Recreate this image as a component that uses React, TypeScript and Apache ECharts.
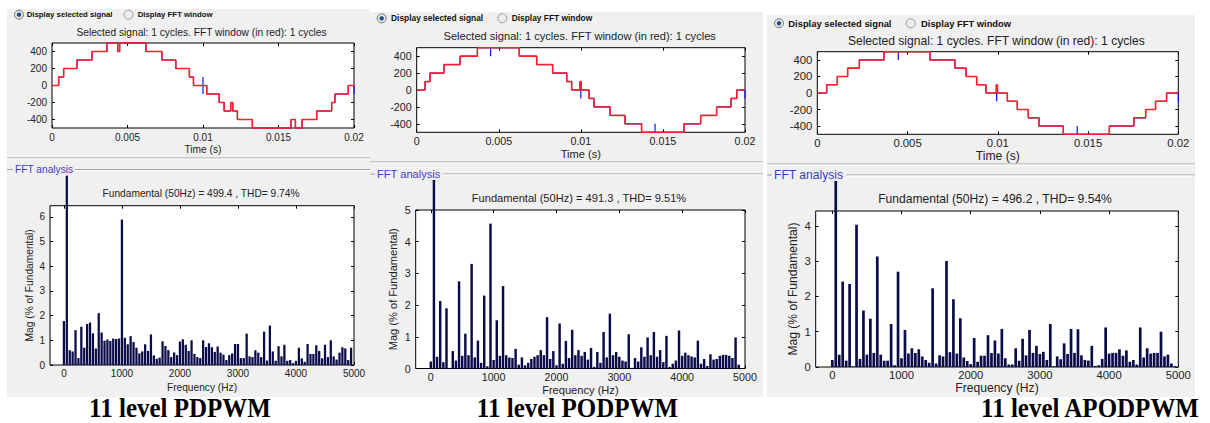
import React, { useEffect, useRef } from "react";
import * as echarts from "echarts";

// ---------- shared axis ticks ----------
const timeTicks = [0, 0.005, 0.01, 0.015, 0.02];
const voltageTicks = [-400, -200, 0, 200, 400];
const freqTicks = [0, 1000, 2000, 3000, 4000, 5000];
const harmonicStepHz = 50;

// ---------- 11 level PDPWM ----------
const pdStepTimes = [0.00044, 0.00077, 0.00165, 0.00265, 0.00364, 0.00435, 0.00448, 0.00622, 0.00728, 0.0082, 0.0091, 0.00937, 0.01025, 0.01107, 0.0114, 0.01184, 0.01197, 0.01228, 0.01327, 0.01583, 0.01612, 0.01656, 0.01753, 0.01852, 0.01874, 0.01962];
const pdStepLevels = [100, 200, 300, 400, 500, 400, 500, 400, 300, 200, 100, 0, -100, -200, -300, -200, -300, -400, -500, -400, -500, -400, -300, -200, -100, 0];
const pdSpikeTimes = [0.01, 0.01, 0.02];
const pdSpikeLevels = [100, -100, -100];
const pdMag = [
  1.78, 100, 0.6, 0.55, 1.41, 0.28, 1.55, 0.7, 1.66, 1.72,
  1.28, 0.67, 2.1, 1.32, 0.98, 1.03, 0.97, 1.07, 1.05, 1.07,
  5.89, 1.1, 0.84, 1.17, 0.93, 0.7, 0.47, 0.55, 0.84, 0.57,
  1.24, 0.39, 0.25, 0.3, 0.96, 0.77, 0.6, 0.32, 0.51, 0.4,
  0.95, 1.04, 0.82, 0.57, 1.0, 0.45, 0.32, 0.28, 1.0, 0.73,
  0.88, 0.72, 0.53, 0.75, 0.5, 0.42, 0.2, 0.4, 0.47, 0.85,
  0.85, 0.28, 0.28, 1.27, 0.35, 0.32, 0.6, 0.5, 0.32, 1.35,
  0.18, 1.6, 0.55, 0.17, 0.76, 0.35, 0.82, 0.17, 0.2, 0.08,
  0.17, 0.7, 0.27, 0.13, 0.85, 0.45, 0.45, 0.8, 0.57, 0.27,
  0.82, 0.32, 1.0, 0.35, 0.22, 0.5, 0.72, 0.67, 0.2, 0.7,
];
const pdMagTicks = [0, 1, 2, 3, 4, 5, 6];
const pdMagMax = 6.45;
const pdFundamental = "499.4";
const pdThd = "9.74";

// ---------- 11 level PODPWM ----------
const podStepTimes = [0.00051, 0.00081, 0.00166, 0.00264, 0.0037, 0.00625, 0.00731, 0.00828, 0.00914, 0.00944, 0.00995, 0.01002, 0.0105, 0.0108, 0.01178, 0.01269, 0.0137, 0.01628, 0.0173, 0.01827, 0.01915, 0.0195];
const podStepLevels = [100, 200, 300, 400, 500, 400, 300, 200, 100, 0, 100, 0, -100, -200, -300, -400, -500, -400, -300, -200, -100, 0];
const podSpikeTimes = [0.0045, 0.01, 0.01452, 0.02];
const podSpikeLevels = [400, -100, -400, -100];
const podMag = [
  0.22, 100, 0.37, 2.13, 0.2, 1.9, 0.02, 0.55, 0.25, 2.75,
  0.4, 1.1, 0.42, 3.3, 0.35, 0.88, 0.18, 2.3, 0.07, 4.57,
  0.27, 1.52, 0.4, 2.6, 0.42, 0.35, 0.33, 0.62, 0.12, 0.35,
  0.1, 0.18, 0.3, 0.37, 0.42, 0.58, 0.42, 1.62, 0.3, 0.55,
  0.1, 1.42, 0.15, 0.87, 0.33, 1.22, 0.42, 0.58, 0.4, 0.52,
  0.28, 0.65, 0.05, 0.52, 0.18, 1.15, 0.35, 1.73, 0.42, 0.52,
  0.37, 0.25, 0.22, 1.08, 0.02, 0.33, 0.22, 0.67, 0.37, 0.98,
  0.42, 1.15, 0.37, 0.58, 0.2, 1.03, 0.05, 0.15, 0.25, 1.2,
  0.4, 0.5, 0.42, 0.38, 0.35, 0.88, 0.15, 0.3, 0.08, 0.45,
  0.28, 0.3, 0.4, 0.43, 0.43, 0.4, 0.33, 0.98, 0.12, 0.0,
];
const podMagTicks = [0, 1, 2, 3, 4, 5];
const podMagMax = 5;
const podFundamental = "491.3";
const podThd = "9.51";

// ---------- 11 level APODPWM ----------
const apodStepTimes = [0.00052, 0.00111, 0.00168, 0.00233, 0.00369, 0.00624, 0.00763, 0.00824, 0.00883, 0.00934, 0.00992, 0.00998, 0.01053, 0.01108, 0.01169, 0.01228, 0.01363, 0.01618, 0.01754, 0.01819, 0.01874, 0.01935];
const apodStepLevels = [100, 200, 300, 400, 500, 400, 300, 200, 100, 0, 100, 0, -100, -200, -300, -400, -500, -400, -300, -200, -100, 0];
const apodSpikeTimes = [0.00449, 0.00994, 0.0144, 0.02];
const apodSpikeLevels = [400, -100, -400, -100];
const apodMag = [
  0.2, 100, 0.35, 2.42, 0.18, 2.35, 0.02, 4.03, 0.23, 1.6,
  0.35, 1.37, 0.4, 3.13, 0.35, 0.18, 0.18, 1.22, 0.05, 2.7,
  0.25, 1.05, 0.38, 0.53, 0.4, 0.5, 0.3, 0.2, 0.12, 2.23,
  0.1, 0.33, 0.3, 3.0, 0.42, 1.92, 0.38, 1.38, 0.27, 0.17,
  0.08, 0.82, 0.15, 0.32, 0.32, 0.9, 0.4, 0.75, 0.38, 1.08,
  0.25, 0.07, 0.07, 0.53, 0.18, 0.8, 0.33, 1.05, 0.4, 0.6,
  0.37, 0.43, 0.2, 1.22, 0.02, 0.3, 0.22, 0.67, 0.37, 1.08,
  0.4, 1.07, 0.33, 0.2, 0.18, 0.6, 0.03, 0.05, 0.23, 1.12,
  0.38, 0.4, 0.4, 0.5, 0.32, 0.47, 0.15, 0.2, 0.07, 1.12,
  0.27, 0.53, 0.38, 0.4, 0.4, 1.0, 0.3, 0.35, 0.1, 0.02,
];
const apodMagTicks = [0, 1, 2, 3, 4];
const apodMagMax = 4.42;
const apodFundamental = "496.2";
const apodThd = "9.54";

const captions = ["11 level PDPWM", "11 level PODPWM", "11 level APODPWM"];

// ---------- layout (pixels) ----------
const OVER = 30; // fundamental bar visible above the FFT axes
const FREQ_MIN = -240;

const panels = [
  {
    stepTimes: pdStepTimes, stepLevels: pdStepLevels, spikeTimes: pdSpikeTimes, spikeLevels: pdSpikeLevels,
    mag: pdMag, magTicks: pdMagTicks, magMax: pdMagMax, fund: pdFundamental, thd: pdThd, caption: captions[0],
    bg: { x: 7, y: 9, w: 363, h: 388 },
    top: { l: 52, t: 43, w: 302, h: 85 },
    fft: { l: 50, t: 205.7, w: 304, h: 159.3 },
    fs: 10.2, tfs: 10, rfs: 7.8,
    radioY: 14.7, r1: 19, t1: 26.7, r2: 128.5, t2: 137.7,
    titleX: 201.5, titleY: 32.3,
    sepY: 158, fftLineY: 169.5, fftLine: [7, 13, 75, 370], fftTextX: 15,
    fftTitleX: 201, fftTitleY: 193,
    xLabelMargin: 4, timeGap: 16, freqMargin: 3, freqGap: 17, yMargin: 5, yNameGap: 15.5,
    capX: 180,
  },
  {
    stepTimes: podStepTimes, stepLevels: podStepLevels, spikeTimes: podSpikeTimes, spikeLevels: podSpikeLevels,
    mag: podMag, magTicks: podMagTicks, magMax: podMagMax, fund: podFundamental, thd: podThd, caption: captions[1],
    bg: { x: 370, y: 12, w: 393, h: 385 },
    top: { l: 416.7, t: 47.7, w: 328.3, h: 84.6 },
    fft: { l: 415.7, t: 210, w: 329.3, h: 158.5 },
    fs: 11.1, tfs: 10.7, rfs: 8.4,
    radioY: 18.3, r1: 381.7, t1: 391, r2: 502.3, t2: 511.7,
    titleX: 579.7, titleY: 36,
    sepY: 162, fftLineY: 174, fftLine: [370, 375, 443, 763], fftTextX: 377,
    fftTitleX: 579, fftTitleY: 198,
    xLabelMargin: 3, timeGap: 16, freqMargin: 3, freqGap: 16, yMargin: 5, yNameGap: 17,
    capX: 577.5,
  },
  {
    stepTimes: apodStepTimes, stepLevels: apodStepLevels, spikeTimes: apodSpikeTimes, spikeLevels: apodSpikeLevels,
    mag: apodMag, magTicks: apodMagTicks, magMax: apodMagMax, fund: apodFundamental, thd: apodThd, caption: captions[2],
    bg: { x: 767, y: 15, w: 428, h: 382 },
    top: { l: 817.3, t: 51.7, w: 361, h: 82.6 },
    fft: { l: 815.7, t: 211, w: 362.6, h: 156 },
    fs: 12.1, tfs: 11.3, rfs: 9.4,
    radioY: 23.3, r1: 779, t1: 788.3, r2: 910.7, t2: 921,
    titleX: 996.3, titleY: 40.7,
    sepY: 164, fftLineY: 175, fftLine: [767, 772, 846, 1195], fftTextX: 774,
    fftTitleX: 995, fftTitleY: 199,
    xLabelMargin: 3, timeGap: 15.5, freqMargin: 2.5, freqGap: 15, yMargin: 5, yNameGap: 17,
    capX: 1090,
  },
];

const FONT = "'Liberation Sans', Arial, sans-serif";
const TXT = "#222";

function stairPoints(times: number[], levels: number[], spikeT: number[], spikeV: number[]) {
  const events = times
    .map((t, i) => ({ t, v: levels[i], spike: false }))
    .concat(spikeT.map((t, i) => ({ t, v: spikeV[i], spike: true })))
    .sort((a, b) => a.t - b.t);
  let cur = 0;
  const pts: number[][] = [[0, 0]];
  for (const e of events) {
    pts.push([e.t, cur]);
    if (e.spike) {
      pts.push([e.t, e.v]);
      pts.push([e.t, cur]);
    } else {
      cur = e.v;
      pts.push([e.t, cur]);
    }
  }
  pts.push([0.02, cur]);
  return pts;
}

function valueAxis(gridIndex: number, position: string, min: number, max: number, ticks: number[], opts: any = {}) {
  const showLabel = !!opts.label;
  return {
    type: "value",
    gridIndex,
    position,
    min,
    max,
    show: opts.hidden ? false : true,
    axisLine: { show: false, onZero: false },
    axisTick: { show: true, inside: true, length: 3, customValues: ticks, lineStyle: { color: "#000", width: 1 } },
    axisLabel: {
      show: showLabel,
      customValues: ticks,
      fontSize: opts.fs || 10,
      color: TXT,
      fontFamily: FONT,
      margin: opts.margin ?? 4,
      formatter: opts.formatter || ((v: number) => String(v)),
    },
    splitLine: { show: false },
    name: opts.name,
    nameLocation: "middle",
    nameGap: opts.nameGap,
    nameRotate: opts.nameRotate,
    nameTextStyle: { fontSize: opts.nfs || 10, color: TXT, fontFamily: FONT },
  };
}

function buildOption() {
  const grid: any[] = [];
  const xAxis: any[] = [];
  const yAxis: any[] = [];
  const series: any[] = [];
  const graphic: any[] = [];

  panels.forEach((p) => {
    // backgrounds & panel decorations
    graphic.push({ type: "rect", z: -10, shape: { x: p.bg.x, y: p.bg.y, width: p.bg.w, height: p.bg.h }, style: { fill: "#f0f0f0" } });
    graphic.push({ type: "line", z: -5, shape: { x1: p.bg.x, y1: p.sepY, x2: p.bg.x + p.bg.w, y2: p.sepY }, style: { stroke: "#a0a0a0", lineWidth: 1 } });
    graphic.push({ type: "line", z: -5, shape: { x1: p.bg.x, y1: p.sepY + 1, x2: p.bg.x + p.bg.w, y2: p.sepY + 1 }, style: { stroke: "#ffffff", lineWidth: 1 } });
    const [a, b, c, d] = p.fftLine;
    graphic.push({ type: "line", z: -5, shape: { x1: a, y1: p.fftLineY, x2: b, y2: p.fftLineY }, style: { stroke: "#a0a0a0", lineWidth: 1 } });
    graphic.push({ type: "line", z: -5, shape: { x1: c, y1: p.fftLineY, x2: d, y2: p.fftLineY }, style: { stroke: "#a0a0a0", lineWidth: 1 } });
    graphic.push({ type: "line", z: -5, shape: { x1: c, y1: p.fftLineY + 1, x2: d, y2: p.fftLineY + 1 }, style: { stroke: "#ffffff", lineWidth: 1 } });
    graphic.push({
      type: "text", z: 50, x: p.fftTextX, y: p.fftLineY,
      style: { text: "FFT analysis", fill: "#3c3cc0", fontSize: p.fs, fontFamily: FONT, align: "left", verticalAlign: "middle", textAlign: "left", textVerticalAlign: "middle" },
    });
    // radio buttons
    graphic.push({ type: "circle", z: 50, shape: { cx: p.r1, cy: p.radioY, r: 4.5 }, style: { fill: "#e4e4e4", stroke: "#777", lineWidth: 1 } });
    graphic.push({ type: "circle", z: 51, shape: { cx: p.r1, cy: p.radioY, r: 2.2 }, style: { fill: "#1d4f86" } });
    graphic.push({ type: "circle", z: 50, shape: { cx: p.r2, cy: p.radioY, r: 4.5 }, style: { fill: "#ececec", stroke: "#999", lineWidth: 1 } });
    graphic.push({
      type: "text", z: 50, x: p.t1, y: p.radioY,
      style: { text: "Display selected signal", fill: "#111", fontSize: p.rfs, fontWeight: "bold", fontFamily: FONT, align: "left", verticalAlign: "middle", textAlign: "left", textVerticalAlign: "middle" },
    });
    graphic.push({
      type: "text", z: 50, x: p.t2, y: p.radioY,
      style: { text: "Display FFT window", fill: "#111", fontSize: p.rfs, fontWeight: "bold", fontFamily: FONT, align: "left", verticalAlign: "middle", textAlign: "left", textVerticalAlign: "middle" },
    });
    // titles
    graphic.push({
      type: "text", z: 50, x: p.titleX, y: p.titleY,
      style: { text: "Selected signal: 1 cycles. FFT window (in red): 1 cycles", fill: TXT, fontSize: p.fs, fontFamily: FONT, align: "center", verticalAlign: "middle", textAlign: "center", textVerticalAlign: "middle" },
    });
    graphic.push({
      type: "text", z: 50, x: p.fftTitleX, y: p.fftTitleY,
      style: { text: `Fundamental (50Hz) = ${p.fund} , THD= ${p.thd}%`, fill: TXT, fontSize: p.fs, fontFamily: FONT, align: "center", verticalAlign: "middle", textAlign: "center", textVerticalAlign: "middle" },
    });
    // caption
    graphic.push({
      type: "text", z: 50, x: p.capX, y: 408, scaleY: 1.12,
      style: { text: p.caption, fill: "#000", fontSize: 25, fontWeight: "bold", fontFamily: "'Liberation Serif', 'Times New Roman', serif", align: "center", verticalAlign: "middle", textAlign: "center", textVerticalAlign: "middle" },
    });

    // grids
    const gTop = grid.length;
    grid.push({ left: p.top.l, top: p.top.t, width: p.top.w, height: p.top.h, show: true, backgroundColor: "#fff", borderColor: "#000", borderWidth: 1 });
    const gFft = grid.length;
    grid.push({ left: p.fft.l, top: p.fft.t, width: p.fft.w, height: p.fft.h, show: true, backgroundColor: "#fff", borderColor: "#000", borderWidth: 1 });
    const gOver = grid.length;
    grid.push({ left: p.fft.l, top: p.fft.t - OVER, width: p.fft.w, height: p.fft.h + OVER, show: false });

    // time-domain axes
    const xTime = xAxis.length;
    xAxis.push(valueAxis(gTop, "bottom", 0, 0.02, timeTicks, {
      label: true, fs: p.tfs, margin: p.xLabelMargin, formatter: (v: number) => String(+v.toFixed(4)),
      name: "Time (s)", nameGap: p.timeGap, nfs: p.fs,
    }));
    xAxis.push(valueAxis(gTop, "top", 0, 0.02, timeTicks));
    const yVolt = yAxis.length;
    yAxis.push(valueAxis(gTop, "left", -500, 500, voltageTicks, { label: true, fs: p.tfs, margin: p.yMargin }));
    yAxis.push(valueAxis(gTop, "right", -500, 500, voltageTicks));

    // FFT axes
    xAxis.push(valueAxis(gFft, "bottom", FREQ_MIN, 5000, freqTicks, {
      label: true, fs: p.tfs, margin: p.freqMargin, name: "Frequency (Hz)", nameGap: p.freqGap, nfs: p.fs,
    }));
    xAxis.push(valueAxis(gFft, "top", FREQ_MIN, 5000, freqTicks));
    yAxis.push(valueAxis(gFft, "left", 0, p.magMax, p.magTicks, {
      label: true, fs: p.tfs, margin: p.yMargin, name: "Mag (% of Fundamental)", nameGap: p.yNameGap, nameRotate: 90, nfs: p.fs,
    }));
    yAxis.push(valueAxis(gFft, "right", 0, p.magMax, p.magTicks));
    const xOver = xAxis.length;
    xAxis.push(valueAxis(gOver, "bottom", FREQ_MIN, 5000, freqTicks, { hidden: true }));
    const yOver = yAxis.length;
    yAxis.push(valueAxis(gOver, "left", 0, (p.magMax * (p.fft.h + OVER)) / p.fft.h, p.magTicks, { hidden: true }));

    // series
    series.push({
      type: "line", xAxisIndex: xTime, yAxisIndex: yVolt, symbol: "none", clip: false, z: 3,
      data: stairPoints(p.stepTimes, p.stepLevels, p.spikeTimes, p.spikeLevels),
      lineStyle: { color: "#1010ff", width: 1.2 },
    });
    series.push({
      type: "line", xAxisIndex: xTime, yAxisIndex: yVolt, symbol: "none", clip: false, z: 4,
      data: stairPoints(p.stepTimes, p.stepLevels, [], []),
      lineStyle: { color: "#ff2020", width: 1.5 },
    });
    series.push({
      type: "bar", xAxisIndex: xOver, yAxisIndex: yOver, clip: true, z: 3,
      barWidth: "78%",
      data: p.mag.map((v, n) => [n * harmonicStepHz, v]),
      itemStyle: { color: "#0b0b4a" },
    });
  });

  return {
    animation: false,
    backgroundColor: "#ffffff",
    textStyle: { fontFamily: FONT },
    grid,
    xAxis,
    yAxis,
    series,
    graphic: { elements: graphic },
  };
}

export default function App() {
  const ref = useRef<HTMLDivElement>(null);
  useEffect(() => {
    if (!ref.current) return;
    const chart = echarts.init(ref.current, undefined, { renderer: "svg" });
    chart.setOption(buildOption() as any);
    return () => chart.dispose();
  }, []);
  return (
    <div
      ref={ref}
      style={{ position: "absolute", left: 0, top: 0, width: 1210, height: 423 }}
    />
  );
}
